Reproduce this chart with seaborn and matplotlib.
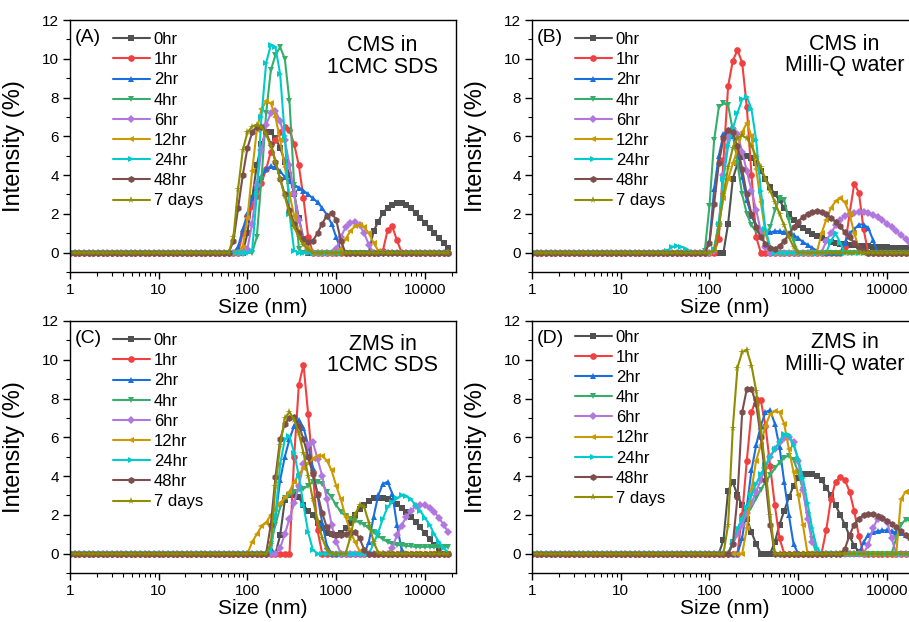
import numpy as np
import pandas as pd
import matplotlib
matplotlib.use("Agg")
import matplotlib.pyplot as plt
import seaborn as sns
from matplotlib.ticker import FixedLocator, LogLocator, NullFormatter, MultipleLocator

# ---------------- data ----------------
# DLS size bins (nm): 19 bins per decade, starting at 1 nm
SIZE_MANTISSA = [1.000, 1.129, 1.274, 1.438, 1.624, 1.833, 2.069, 2.336, 2.637, 2.976,
                 3.360, 3.793, 4.281, 4.833, 5.456, 6.158, 6.952, 7.848, 8.859]
N_BINS = 82
SERIES_LABELS = ["0hr", "1hr", "2hr", "4hr", "6hr", "12hr", "24hr", "48hr", "7 days"]
PANEL_TAGS = ["(A)", "(B)", "(C)", "(D)"]
PANEL_TITLES = ["CMS in\n1CMC SDS", "CMS in\nMilli-Q water", "ZMS in\n1CMC SDS", "ZMS in\nMilli-Q water"]
X_TICKS = [1, 10, 100, 1000, 10000]
X_TICK_LABELS = ["1", "10", "100", "1000", "10000"]
Y_TICKS = [0, 2, 4, 6, 8, 10, 12]

# Each series: list of (first bin index, intensities %); all other bins are 0
# Panel A: CMS in 1CMC SDS
A_0HR = [(37, [0.0, 1.0, 2.8, 4.5, 5.6, 6.2, 6.2, 5.9, 5.4, 4.7, 4.0, 3.0, 1.8, 0.7, 0.0]),
         (64, [0.0, 1.1, 1.6, 2.05, 2.3, 2.47, 2.56, 2.56, 2.47, 2.3, 2.05, 1.8, 1.53, 1.27, 1.0, 0.76, 0.5, 0.24])]
A_1HR = [(36, [0.0, 1.0, 1.9, 2.4, 2.9, 3.6, 4.3, 5.2, 5.8, 6.2, 6.5, 6.3, 5.6, 4.5, 2.8, 0.8, 0.0]),
         (67, [0.1, 1.15, 1.35, 0.65, 0.0])]
A_2HR = [(36, [0.3, 1.2, 2.0, 2.8, 3.4, 3.9, 4.3, 4.45, 4.4, 4.2, 3.9, 3.7, 3.5, 3.35, 3.2, 3.0,
               2.8, 2.6, 2.3, 1.95, 1.5, 0.8, 0.1, 0.0])]
A_4HR = [(39, [0.0, 0.8, 3.8, 7.2, 9.4, 10.2, 10.6, 10.0, 7.8, 3.5, 0.2, 0.0])]
A_6HR = [(38, [0.2, 1.5, 3.5, 5.3, 6.6, 7.2, 7.3, 6.8, 5.8, 4.5, 3.0, 1.7, 0.7, 0.2, 0.0]),
         (57, [0.2, 0.8, 1.3, 1.55, 1.6, 1.4, 1.0, 0.4, 0.0])]
A_12HR = [(37, [0.3, 1.8, 4.2, 6.3, 7.4, 7.8, 7.7, 7.0, 5.8, 4.4, 3.0, 1.9, 1.1, 0.5, 0.2, 0.0]),
          (58, [0.2, 0.7, 1.1, 1.35, 1.4, 1.3, 1.0, 0.5, 0.1, 0.0])]
A_24HR = [(39, [0.1, 3.0, 7.0, 9.8, 10.7, 10.6, 9.2, 6.0, 2.0, 0.1, 0.0])]
A_48HR = [(35, [0.6, 2.3, 4.0, 5.4, 6.2, 6.5, 6.5, 6.2, 5.6, 4.7, 3.8, 3.0, 2.2, 1.5, 1.0, 0.7,
                0.55, 0.6, 1.0, 1.5, 1.9, 2.05, 1.7, 0.6, 0.0])]
A_7D = [(35, [0.8, 3.3, 5.3, 6.2, 6.5, 6.6, 6.5, 6.1, 5.5, 4.7, 3.8, 2.9, 2.0, 1.3, 0.8, 0.4, 0.15, 0.0])]

# Panel B: CMS in Milli-Q water
B_0HR = [(41, [0.0, 1.5, 3.8, 4.6, 4.95, 5.0, 4.9, 4.6, 4.2, 3.8, 3.4, 3.0, 2.7, 2.3, 2.0, 1.7, 1.45,
               1.25, 1.1, 0.95, 0.85, 0.75, 0.65, 0.55, 0.5, 0.45, 0.42, 0.4, 0.38, 0.36, 0.34,
               0.32, 0.3, 0.3, 0.28, 0.27, 0.26, 0.25, 0.25, 0.25, 0.25])]
B_1HR = [(39, [0.0, 0.7, 4.8, 8.6, 9.9, 10.45, 9.8, 7.5, 4.0, 0.8, 0.0]),
         (67, [0.3, 2.0, 3.55, 3.1, 1.2, 0.0])]
B_2HR = [(37, [0.0, 0.5, 3.3, 5.0, 6.1, 6.3, 6.0, 5.0, 3.9, 2.7, 1.9, 1.4, 1.15, 1.05, 1.05, 1.1,
               1.1, 1.05, 1.0, 0.9, 0.75, 0.55, 0.4, 0.25, 0.1, 0.0]),
         (66, [0.0, 0.5, 1.0, 1.2, 1.45, 1.45, 1.27, 0.67, 0.0])]
B_4HR = [(37, [0.1, 2.4, 5.8, 7.5, 7.7, 7.6, 6.3, 4.6, 3.0, 2.0, 1.4, 1.1, 0.95, 0.95, 1.3, 2.2,
               2.8, 2.7, 1.7, 0.6, 0.0])]
B_6HR = [(39, [0.1, 1.5, 4.0, 6.0, 6.4, 6.1, 5.2, 4.2, 3.2, 2.2, 1.1, 0.3, 0.0]),
         (62, [0.0, 0.6, 1.0, 1.4, 1.7, 1.9, 2.0, 2.05, 2.1, 2.1, 2.05, 1.95, 1.85, 1.7, 1.5,
               1.3, 1.1, 0.9, 0.7, 0.5])]
B_12HR = [(39, [0.2, 1.5, 2.8, 3.8, 4.6, 5.3, 6.2, 6.7, 6.0, 4.3, 2.6, 1.0, 0.2, 0.0]),
          (61, [0.0, 1.0, 1.7, 2.3, 2.65, 2.8, 2.6, 2.0, 1.0, 0.2, 0.0])]
B_24HR = [(29, [0.1, 0.3, 0.35, 0.3, 0.2, 0.05, 0.0]),
          (39, [0.2, 1.5, 3.8, 5.5, 6.4, 7.2, 7.9, 8.05, 7.4, 5.8, 3.2, 1.2, 0.3, 0.0]),
          (63, [0.0, 0.6, 1.0, 0.5, 0.0])]
B_48HR = [(37, [0.0, 0.5, 2.5, 4.6, 5.9, 6.3, 6.2, 5.5, 4.3, 3.0, 2.0, 1.3, 0.8, 0.45, 0.25, 0.2,
                0.35, 0.6, 0.95, 1.3, 1.6, 1.85, 2.0, 2.1, 2.15, 2.1, 2.0, 1.8, 1.6, 1.35, 1.05,
                0.8, 0.5, 0.3, 0.1, 0.0])]
B_7D = [(39, [0.1, 1.3, 3.0, 4.4, 5.4, 5.9, 6.05, 5.9, 5.5, 4.95, 4.4, 3.8, 3.2, 2.6, 2.0, 1.4,
              0.8, 0.3, 0.0])]

# Panel C: ZMS in 1CMC SDS
C_0HR = [(44, [0.0, 0.95, 2.75, 3.0, 3.0, 2.9, 2.5, 2.2, 2.0, 1.6, 1.3, 1.05, 1.0, 0.98, 1.05,
               1.3, 1.6, 2.0, 2.3, 2.5, 2.7, 2.85, 2.85, 2.85, 2.8, 2.7, 2.55, 2.35, 2.15, 1.9,
               1.65, 1.35, 1.05, 0.75, 0.45, 0.2, 0.0])]
C_1HR = [(47, [0.0, 5.0, 8.7, 9.75, 7.2, 4.2, 1.2, 0.0])]
C_2HR = [(43, [0.3, 1.9, 3.8, 5.0, 5.9, 6.6, 6.9, 6.5, 5.6, 4.4, 3.0, 1.6, 0.4, 0.0]),
         (63, [0.0, 0.6, 1.9, 3.0, 3.6, 3.7, 3.1, 1.5, 0.2, 0.0])]
C_4HR = [(42, [0.0, 0.5, 1.5, 2.4, 2.85, 3.0, 3.2, 3.3, 3.35, 3.5, 3.7, 3.7, 3.6, 3.2, 2.9, 2.5,
               2.15, 1.95, 1.8, 1.7, 1.6, 1.5, 1.3, 1.1, 0.9, 0.75, 0.6, 0.5, 0.45, 0.43, 0.4,
               0.38, 0.35, 0.35, 0.35, 0.35, 0.35, 0.35, 0.35, 0.35])]
C_6HR = [(44, [0.0, 0.3, 1.0, 1.8, 2.6, 3.5, 4.6, 5.6, 5.75, 4.9, 4.0, 2.8, 1.5, 0.6, 0.0]),
         (68, [0.0, 0.3, 0.95, 1.45, 1.9, 2.2, 2.45, 2.5, 2.5, 2.35, 2.15, 1.85, 1.5, 1.1])]
C_12HR = [(38, [0.0, 0.6, 1.0, 1.4, 1.6, 2.0, 2.3, 2.6, 2.9, 3.2, 3.7, 4.1, 4.4, 4.65, 4.9, 5.05,
                5.05, 4.8, 4.3, 3.5, 2.8, 1.9, 1.2, 0.6, 0.15, 0.0])]
C_24HR = [(43, [0.1, 2.0, 4.6, 5.9, 6.05, 5.2, 4.0, 2.5, 1.1, 0.2, 0.0]),
          (64, [0.0, 0.5, 1.1, 1.8, 2.4, 2.65, 2.85, 3.0, 2.95, 2.8, 2.5, 2.2, 1.85, 1.5, 1.0,
                0.6, 0.3, 0.05])]
C_48HR = [(42, [0.0, 1.5, 3.95, 5.9, 6.7, 7.0, 7.05, 6.6, 5.9, 5.0, 4.1, 3.1, 2.1, 1.35, 1.0,
                0.95, 0.95, 1.0, 1.05, 1.1, 0.8, 0.2, 0.0])]
C_7D = [(43, [0.5, 3.5, 5.6, 7.0, 7.3, 6.9, 6.2, 5.2, 4.0, 2.8, 1.7, 0.8, 0.2, 0.0, 0.0]),
        (59, [0.0, 0.8, 2.0, 2.5, 2.4, 1.6, 0.6, 0.05, 0.0])]

# Panel D: ZMS in Milli-Q water
D_0HR = [(41, [0.7, 3.25, 3.7, 3.0, 2.5, 1.8, 1.1, 0.5, 0.0, 0.0, 0.0, 0.6, 1.5, 2.2, 2.9, 3.5,
               3.9, 4.1, 4.1, 4.1, 4.0, 3.8, 3.4, 3.0, 2.5, 2.0, 1.5, 0.9, 0.4, 0.1, 0.0])]
D_1HR = [(44, [0.0, 2.0, 4.8, 7.3, 8.0, 7.9, 6.6, 4.5, 2.5, 0.8, 0.0]),
         (62, [0.0, 1.2, 2.8, 3.7, 3.95, 3.8, 3.2, 2.2, 0.9, 0.0])]
D_2HR = [(44, [0.0, 0.8, 2.4, 4.3, 5.6, 6.6, 7.3, 7.4, 6.7, 5.5, 3.7, 2.0, 0.5, 0.0]),
         (70, [0.0, 0.6, 0.95, 1.1, 1.15, 1.2, 1.2, 1.15, 1.1, 1.05, 0.95, 0.9])]
D_4HR = [(42, [0.0, 0.6, 1.2, 1.65, 2.0, 2.4, 2.85, 3.3, 3.7, 4.05, 4.4, 4.7, 4.95, 5.05, 4.85,
               4.2, 3.3, 2.0, 0.75, 0.0]),
         (77, [0.0, 0.8, 1.5, 1.75, 1.7])]
D_6HR = [(42, [0.0, 0.5, 1.0, 1.5, 2.1, 2.6, 3.2, 3.8, 4.4, 5.0, 5.4, 5.75, 5.95, 6.0, 5.75, 4.8,
               3.3, 1.8, 0.6, 0.0]),
         (71, [0.0, 0.45, 1.3, 1.8, 1.85, 1.65, 0.8, 0.0])]
D_12HR = [(45, [0.0, 1.3, 3.3, 4.8, 5.6, 6.6, 7.2, 7.35, 7.3, 6.7, 5.4, 4.2, 3.0, 1.5, 0.0]),
          (78, [0.0, 2.8, 3.2, 3.3])]
D_24HR = [(42, [0.0, 0.6, 1.3, 1.8, 2.4, 3.0, 3.6, 4.1, 4.55, 5.0, 5.4, 5.75, 6.15, 6.1, 5.6,
                4.9, 3.9, 2.6, 1.3, 0.3, 0.0])]
D_48HR = [(42, [0.0, 0.5, 2.9, 7.3, 8.5, 8.5, 7.7, 6.0, 3.8, 1.5, 0.0]),
          (66, [0.0, 0.25, 0.95, 1.5, 1.8, 2.0, 2.05, 2.05, 1.95, 1.85, 1.7, 1.55, 1.35, 1.15,
                0.95, 0.8])]
D_7D = [(41, [0.0, 1.5, 6.5, 9.6, 10.4, 10.5, 9.7, 8.4, 6.4, 4.4, 2.0, 0.0])]

PANELS = [
    [A_0HR, A_1HR, A_2HR, A_4HR, A_6HR, A_12HR, A_24HR, A_48HR, A_7D],
    [B_0HR, B_1HR, B_2HR, B_4HR, B_6HR, B_12HR, B_24HR, B_48HR, B_7D],
    [C_0HR, C_1HR, C_2HR, C_4HR, C_6HR, C_12HR, C_24HR, C_48HR, C_7D],
    [D_0HR, D_1HR, D_2HR, D_4HR, D_6HR, D_12HR, D_24HR, D_48HR, D_7D],
]

# ---------------- style ----------------
COLORS = ["#515151", "#F14040", "#1A6FDF", "#37AD6B", "#B177DE",
          "#CC9900", "#00CBCC", "#7D4E4E", "#8E8E00"]
MARKERS = ["s", "o", "^", "v", "D", "<", ">", "h", "*"]
MSIZES = [4.3, 4.8, 5.0, 5.0, 4.0, 5.0, 5.0, 5.0, 5.6]

sns.set_style("ticks")
plt.rcParams["font.family"] = ["Liberation Sans", "DejaVu Sans"]
plt.rcParams["axes.linewidth"] = 1.0
for key in ["text.color", "axes.labelcolor", "xtick.color", "ytick.color", "axes.edgecolor"]:
    plt.rcParams[key] = "black"

sizes = np.array([m * 10 ** d for d in range(5) for m in SIZE_MANTISSA][:N_BINS])


def build(segments):
    y = np.zeros(N_BINS)
    for start, vals in segments:
        y[start:start + len(vals)] = vals
    return y


W, H = 909, 622
fig = plt.figure(figsize=(W / 100, H / 100), dpi=100)

ax_w, ax_h = 386, 252
boxes = [(70, 20), (532, 20), (70, 321), (532, 321)]  # left, top in px
title_y = [0.855, 0.861, 0.865, 0.871]
legend_y = [0.952, 0.952, 0.952, 0.966]

for p, (left, top) in enumerate(boxes):
    ax = fig.add_axes([left / W, 1 - (top + ax_h) / H, ax_w / W, ax_h / H])
    ax.set_xscale("log")
    for i, segs in enumerate(PANELS[p]):
        df = pd.DataFrame({"Size": sizes, "Intensity": build(segs)})
        sns.lineplot(data=df, x="Size", y="Intensity", ax=ax, color=COLORS[i],
                     marker=MARKERS[i], markersize=MSIZES[i], markeredgewidth=0,
                     linewidth=1.5, label=SERIES_LABELS[i], sort=False,
                     estimator=None, legend=False)
    ax.set_xlim(1, 22400)
    ax.set_ylim(-1, 12)
    ax.xaxis.set_major_locator(FixedLocator(X_TICKS))
    ax.set_xticklabels(X_TICK_LABELS)
    ax.xaxis.set_minor_locator(LogLocator(base=10, subs=np.arange(2, 10), numticks=20))
    ax.xaxis.set_minor_formatter(NullFormatter())
    ax.set_yticks(Y_TICKS)
    ax.yaxis.set_minor_locator(MultipleLocator(1))
    ax.tick_params(which="major", direction="out", length=5, width=1.0, labelsize=11,
                   color="black", labelcolor="black", pad=3)
    ax.tick_params(which="minor", direction="out", length=3, width=0.8, color="black")
    for s in ax.spines.values():
        s.set_color("black")
        s.set_linewidth(1.0)
    ax.set_xlabel("Size (nm)", fontsize=15, color="black")
    ax.set_ylabel("Intensity (%)", fontsize=17, color="black")
    ax.xaxis.set_label_coords(0.5, -0.105)
    ax.yaxis.set_label_coords(-0.117, 0.5)
    ax.text(0.013, 0.929, PANEL_TAGS[p], transform=ax.transAxes, fontsize=14,
            ha="left", va="center", color="black")
    ax.text(0.81, title_y[p], PANEL_TITLES[p], transform=ax.transAxes, fontsize=15.5,
            ha="center", va="center", linespacing=1.05, color="black")
    leg = ax.legend(loc="upper left", bbox_to_anchor=(0.111, legend_y[p]), frameon=False,
                    fontsize=12, handlelength=2.2, handletextpad=0.25, labelspacing=0.31,
                    borderpad=0, borderaxespad=0, numpoints=1)
    for t in leg.get_texts():
        t.set_color("black")

fig.savefig("out.png", dpi=100)
